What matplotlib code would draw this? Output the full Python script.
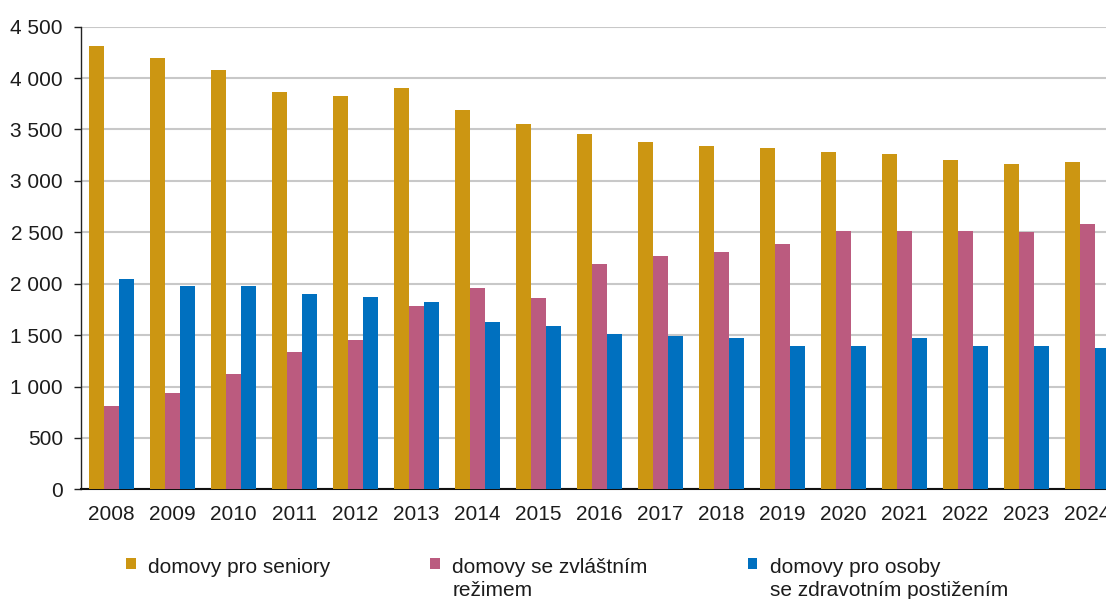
import numpy as np
import matplotlib
matplotlib.use("Agg")
import matplotlib.pyplot as plt
from matplotlib.ticker import FuncFormatter

# ─── DATA ────────────────────────────────────────────
years = [str(y) for y in range(2008, 2025)]

seniori = [4310, 4195, 4080, 3860, 3825, 3900, 3690, 3550,
           3455, 3380, 3340, 3320, 3280, 3260, 3200, 3165, 3180]
zvlastni = [810, 940, 1120, 1335, 1450, 1780, 1955, 1860,
            2190, 2270, 2305, 2385, 2515, 2515, 2515, 2500, 2580]
postizeni = [2050, 1975, 1975, 1895, 1875, 1820, 1625, 1585,
             1510, 1490, 1470, 1390, 1390, 1470, 1390, 1390, 1375]

labels = ['domovy pro seniory',
          'domovy se zvláštním\nrežimem',
          'domovy pro osoby\nse zdravotním postižením']
colors = ['#CC9612', '#BB5B7F', '#0070BF']

# ─── FIGURE ──────────────────────────────────────────
plt.rcParams['font.family'] = ['Liberation Sans', 'DejaVu Sans']
text_col = '#1c1c1c'

fig = plt.figure(figsize=(11.06, 5.99), dpi=100)
# axes runs slightly past the right edge, like the cropped original
ax = fig.add_axes([81 / 1106, 1 - 489.3 / 599, 1037 / 1106, 462.6 / 599])

x = np.arange(len(years))
w = 0.243
for i, (vals, lab, col) in enumerate(zip([seniori, zvlastni, postizeni], labels, colors)):
    ax.bar(x + (i - 1) * w, vals, width=w, color=col, label=lab, zorder=3)

ax.set_xlim(-0.5, len(years) - 0.5)
ax.set_ylim(0, 4500)
ax.set_yticks(np.arange(0, 4501, 500))
ax.yaxis.set_major_formatter(FuncFormatter(lambda v, p: f'{int(v):,}'.replace(',', ' ')))
ax.set_xticks(x)
ax.set_xticklabels(years)

ax.grid(axis='y', color='#c8c8c8', linewidth=1.5, zorder=0)
ax.set_axisbelow(True)

for s in ['top', 'right']:
    ax.spines[s].set_visible(False)
ax.spines['left'].set_color('#222222')
ax.spines['left'].set_linewidth(1.0)
ax.spines['bottom'].set_color('#111111')
ax.spines['bottom'].set_linewidth(1.5)

ax.tick_params(axis='y', length=5, width=1.0, color='#222222', pad=8,
               labelsize=15, labelcolor=text_col)
ax.tick_params(axis='x', length=0, pad=11, labelsize=15, labelcolor=text_col)

# ─── LEGEND ──────────────────────────────────────────
leg = fig.legend(loc='upper left', bbox_to_anchor=(126 / 1106, 1 - 558 / 599),
                 ncol=3, frameon=False, fontsize=15, labelcolor=text_col,
                 handlelength=0.46, handleheight=0.46, handletextpad=0.6,
                 columnspacing=4.8, borderpad=0, borderaxespad=0)
for t in leg.get_texts():
    t.set_linespacing(1.3)

# square next to the first line of each entry, entries top-aligned
leg._legend_handle_box.align = 'top'
for col in leg._legend_handle_box.get_children():
    col.align = 'top'
    for row in col.get_children():
        row.align = 'top'

plt.savefig('out.png', dpi=100)
